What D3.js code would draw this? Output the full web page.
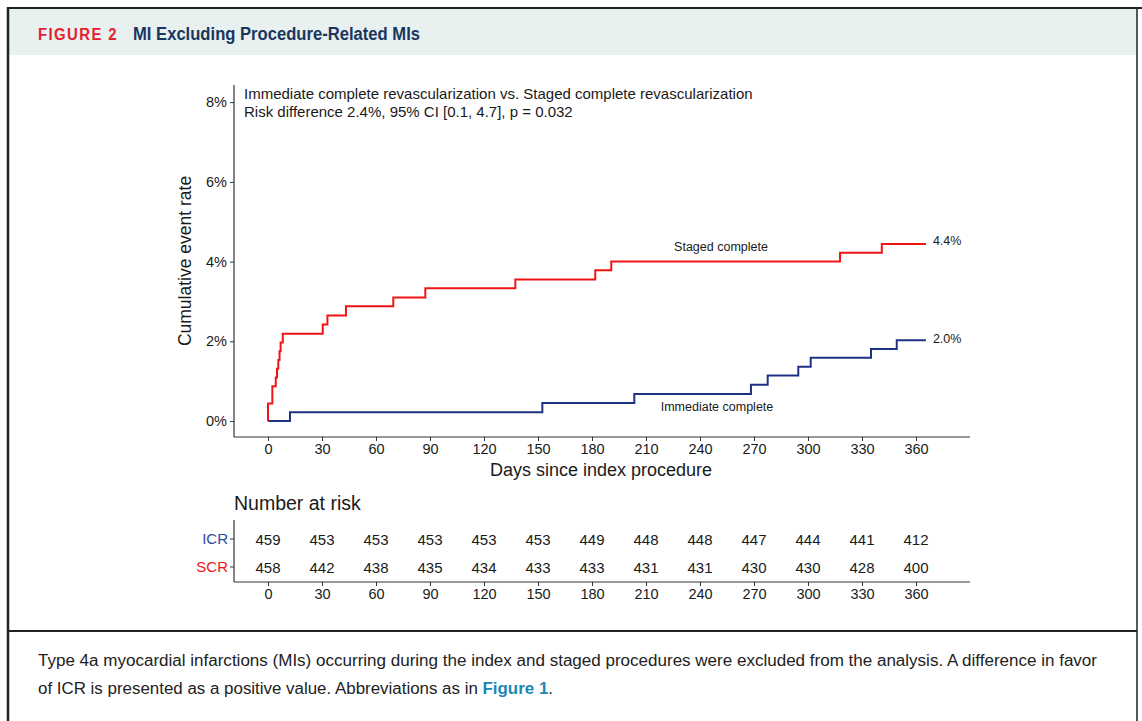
<!DOCTYPE html>
<html>
<head>
<meta charset="utf-8">
<script src="https://cdn.jsdelivr.net/npm/d3@7"></script>
<style>
  html, body { margin: 0; padding: 0; background: #fff; }
  svg { display: block; }
  text { font-family: "Liberation Sans", Arial, sans-serif; }
</style>
</head>
<body>
<svg id="fig" width="1142" height="721"></svg>
<script>
// Cumulative event rate (%) after each event, by day since index procedure
const scrDays = [0, 0, 2.4, 4.3, 5.0, 5.7, 6.4, 7.0, 8.2, 30.4, 33.0, 43.3, 69.6, 87.4, 137.4, 181.8, 190.7, 317.8, 341.0, 365.5];
const scrRate = [0, 0.44, 0.87, 1.09, 1.31, 1.53, 1.75, 1.97, 2.19, 2.42, 2.65, 2.88, 3.10, 3.33, 3.55, 3.78, 4.00, 4.22, 4.44, 4.44];
const icrDays = [0, 12.2, 152.4, 203.5, 268.3, 277.6, 294.6, 301.5, 335.0, 349.3, 365.5];
const icrRate = [0, 0.22, 0.45, 0.68, 0.91, 1.14, 1.36, 1.59, 1.81, 2.03, 2.03];

const xTicks = [0, 30, 60, 90, 120, 150, 180, 210, 240, 270, 300, 330, 360];
const yTicks = [0, 2, 4, 6, 8];
const riskGroups = ["ICR", "SCR"];
const icrAtRisk = [459, 453, 453, 453, 453, 453, 449, 448, 448, 447, 444, 441, 412];
const scrAtRisk = [458, 442, 438, 435, 434, 433, 433, 431, 431, 430, 430, 428, 400];

const RED = "#f01414";
const BLUE = "#1e3283";
const INK = "#1a1a1a";

const svg = d3.select("#fig");

// ---- figure frame and header ----
svg.append("rect").attr("x", 8).attr("y", 8).attr("width", 1129).attr("height", 47).attr("fill", "#e8f0f0");
svg.append("line").attr("x1", 8).attr("x2", 1142).attr("y1", 8).attr("y2", 8).attr("stroke", "#222").attr("stroke-width", 2);
svg.append("line").attr("x1", 8).attr("x2", 8).attr("y1", 7).attr("y2", 721).attr("stroke", "#222").attr("stroke-width", 2.5);
svg.append("line").attr("x1", 1137).attr("x2", 1137).attr("y1", 8).attr("y2", 721).attr("stroke", "#222").attr("stroke-width", 1.5);
svg.append("line").attr("x1", 8).attr("x2", 1137).attr("y1", 631).attr("y2", 631).attr("stroke", "#222").attr("stroke-width", 2);

function fitText(sel, width) {
  sel.attr("textLength", width).attr("lengthAdjust", "spacingAndGlyphs");
  return sel;
}

fitText(svg.append("text").attr("x", 38).attr("y", 39.5)
  .attr("font-family", "Lato, 'Open Sans', sans-serif").attr("font-weight", 900)
  .attr("font-size", 16).attr("fill", "#e5202e").attr("letter-spacing", 1.5)
  .text("FIGURE 2"), 80);
fitText(svg.append("text").attr("x", 133).attr("y", 39.5)
  .attr("font-family", "'Open Sans', Lato, sans-serif").attr("font-weight", 700)
  .attr("font-size", 17.5).attr("fill", "#1b365d")
  .text("MI Excluding Procedure-Related MIs"), 287);

// ---- caption ----
fitText(svg.append("text").attr("x", 38).attr("y", 666)
  .attr("font-family", "'Open Sans', sans-serif").attr("font-size", 16).attr("fill", "#222")
  .text("Type 4a myocardial infarctions (MIs) occurring during the index and staged procedures were excluded from the analysis. A difference in favor"), 1059);
const cap2 = svg.append("text").attr("x", 38).attr("y", 694)
  .attr("font-family", "'Open Sans', sans-serif").attr("font-size", 16).attr("fill", "#222");
cap2.append("tspan").text("of ICR is presented as a positive value. Abbreviations as in ");
cap2.append("tspan").attr("font-weight", 700).attr("fill", "#1a87b5").text("Figure 1");
cap2.append("tspan").text(".");
fitText(cap2, 515);

// ---- main plot scales ----
const x = d3.scaleLinear().domain([-18.9, 390]).range([234, 970]);
const y = d3.scaleLinear().domain([-0.4, 8.43]).range([437, 85]);

const plot = svg.append("g");

// y axis
const yAxis = plot.append("g").attr("transform", "translate(234,0)")
  .call(d3.axisLeft(y).tickValues(yTicks).tickSize(4).tickPadding(3).tickFormat(d => d + "%"));
yAxis.select(".domain").remove();
yAxis.selectAll(".tick line").attr("stroke", "#333");
yAxis.selectAll(".tick text").attr("font-size", 14.5).attr("fill", INK).attr("font-family", "'Liberation Sans', Arial, sans-serif");
plot.append("line").attr("x1", 234).attr("x2", 234).attr("y1", y.range()[1]).attr("y2", y.range()[0]).attr("stroke", "#333").attr("stroke-width", 1.2);

// x axis
const xAxis = plot.append("g").attr("transform", "translate(0,437)")
  .call(d3.axisBottom(x).tickValues(xTicks).tickSize(4).tickPadding(3));
xAxis.select(".domain").remove();
xAxis.selectAll(".tick line").attr("stroke", "#333");
xAxis.selectAll(".tick text").attr("font-size", 14.5).attr("fill", INK).attr("font-family", "'Liberation Sans', Arial, sans-serif");
plot.append("line").attr("x1", x.range()[0]).attr("x2", x.range()[1]).attr("y1", 437).attr("y2", 437).attr("stroke", "#333").attr("stroke-width", 1.2);

// axis titles
plot.append("text").attr("x", 601).attr("y", 476).attr("text-anchor", "middle")
  .attr("font-size", 18).attr("fill", INK).text("Days since index procedure");
plot.append("text").attr("transform", "translate(191,261) rotate(-90)").attr("text-anchor", "middle")
  .attr("font-size", 17.5).attr("fill", INK).text("Cumulative event rate");

// annotation
plot.append("text").attr("x", 244).attr("y", 99).attr("font-size", 15).attr("fill", INK)
  .text("Immediate complete revascularization vs. Staged complete revascularization");
plot.append("text").attr("x", 244).attr("y", 117).attr("font-size", 15).attr("fill", INK)
  .text("Risk difference 2.4%, 95% CI [0.1, 4.7], p = 0.032");

// step curves
const line = d3.line().x(d => x(d[0])).y(d => y(d[1])).curve(d3.curveStepAfter);
const scr = scrDays.map((d, i) => [d, scrRate[i]]);
const icr = icrDays.map((d, i) => [d, icrRate[i]]);
plot.append("path").datum(icr).attr("d", line).attr("fill", "none").attr("stroke", BLUE).attr("stroke-width", 2);
plot.append("path").datum(scr).attr("d", line).attr("fill", "none").attr("stroke", RED).attr("stroke-width", 2);

// curve labels
const lastScr = scr[scr.length - 1], lastIcr = icr[icr.length - 1];
plot.append("text").attr("x", x(lastScr[0]) + 7).attr("y", y(lastScr[1]) + 1).attr("font-size", 12.5).attr("fill", INK)
  .text(d3.format(".1f")(lastScr[1]) + "%");
plot.append("text").attr("x", x(lastIcr[0]) + 7).attr("y", y(lastIcr[1]) + 3).attr("font-size", 12.5).attr("fill", INK)
  .text(d3.format(".1f")(lastIcr[1]) + "%");
plot.append("text").attr("x", 721).attr("y", 251).attr("text-anchor", "middle").attr("font-size", 12.5).attr("fill", INK)
  .text("Staged complete");
plot.append("text").attr("x", 717).attr("y", 411).attr("text-anchor", "middle").attr("font-size", 12.5).attr("fill", INK)
  .text("Immediate complete");

// ---- number at risk table ----
const risk = svg.append("g");
risk.append("text").attr("x", 234).attr("y", 510).attr("font-size", 19.5).attr("fill", INK).text("Number at risk");

const ry = d3.scaleBand().domain(riskGroups).range([525, 581]).padding(0);
const rAxisY = risk.append("g").attr("transform", "translate(234,0)")
  .call(d3.axisLeft(ry).tickSize(4).tickPadding(2));
rAxisY.select(".domain").remove();
rAxisY.selectAll(".tick line").attr("stroke", "#333");
rAxisY.selectAll(".tick text").attr("font-size", 15).attr("font-family", "'Liberation Sans', Arial, sans-serif")
  .attr("fill", d => d === "ICR" ? "#2b4c9b" : RED);
risk.append("line").attr("x1", 234).attr("x2", 234).attr("y1", 520).attr("y2", 582).attr("stroke", "#333").attr("stroke-width", 1.2);

const rAxisX = risk.append("g").attr("transform", "translate(0,582)")
  .call(d3.axisBottom(x).tickValues(xTicks).tickSize(4).tickPadding(3));
rAxisX.select(".domain").remove();
rAxisX.selectAll(".tick line").attr("stroke", "#333");
rAxisX.selectAll(".tick text").attr("font-size", 14.5).attr("fill", INK).attr("font-family", "'Liberation Sans', Arial, sans-serif");
risk.append("line").attr("x1", x.range()[0]).attr("x2", x.range()[1]).attr("y1", 582).attr("y2", 582).attr("stroke", "#333").attr("stroke-width", 1.2);

const rows = [["ICR", icrAtRisk], ["SCR", scrAtRisk]];
rows.forEach(([g, vals]) => {
  risk.selectAll(null).data(vals).join("text")
    .attr("x", (d, i) => x(xTicks[i]))
    .attr("y", ry(g) + ry.bandwidth() / 2 + 5.5)
    .attr("text-anchor", "middle").attr("font-size", 15).attr("fill", INK)
    .text(d => d);
});
</script>
</body>
</html>
